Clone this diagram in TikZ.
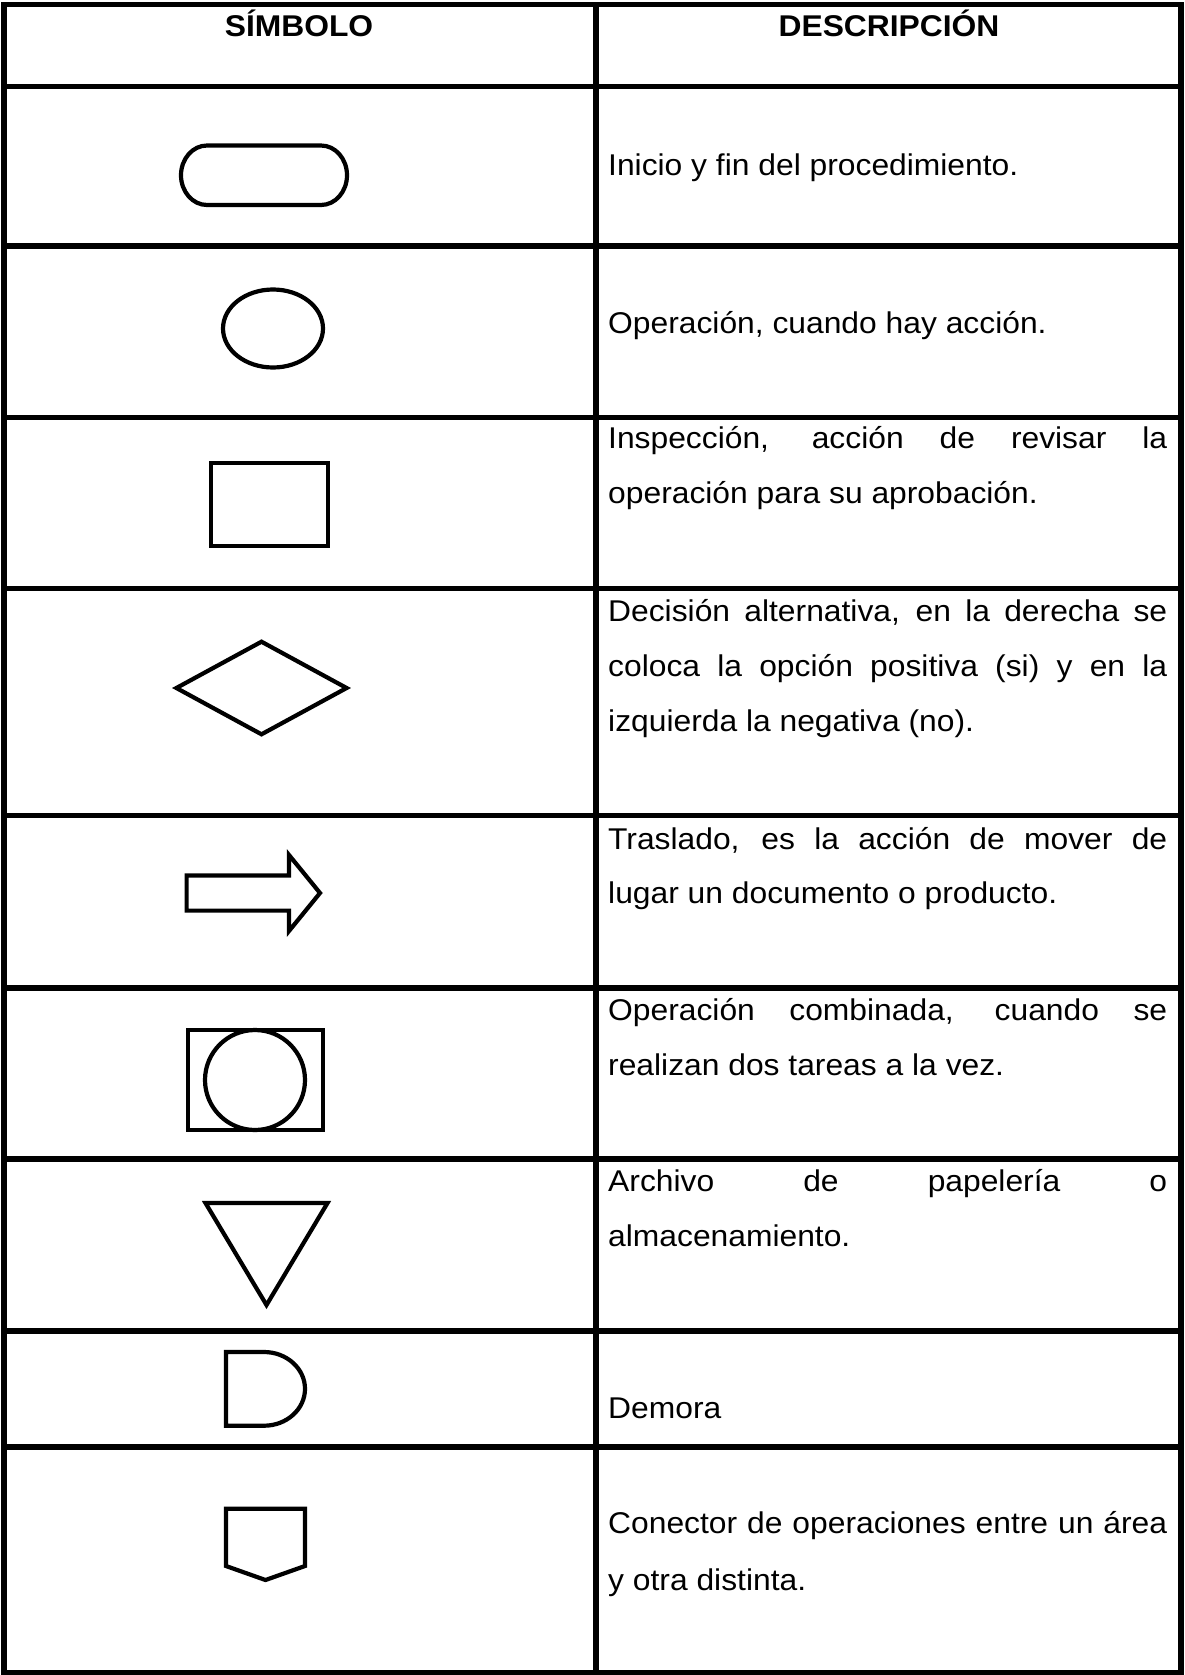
\documentclass[tikz,border=0pt]{standalone}
\usepackage{fontspec}
\setmainfont{Liberation Sans}[FakeStretch=1.06]
\newcommand\jline[1]{\makebox[559pt][s]{#1}}
\begin{document}
\begin{tikzpicture}[x=1pt,y=-1pt,
  tbl/.style={line width=5.5pt},
  sym/.style={line width=4.2pt, line join=miter},
  desc/.style={anchor=base west, inner sep=0pt, font=\fontsize{30}{36}\selectfont},
  head/.style={anchor=base, inner sep=0pt, font=\fontsize{30}{36}\selectfont\bfseries}]
\useasboundingbox (0,0) rectangle (1184,1675);
\fill[white] (0,0) rectangle (1184,1675);

% table grid
\draw[tbl] (4.2,4.5) rectangle (1181,1672.5);
\draw[tbl] (596,4.5) -- (596,1672.5);
\foreach \y in {86.7,246,417.7,588.7,815.7,988,1159,1331,1447}
  \draw[tbl] (4.2,\y) -- (1181,\y);

% header
\node[head] (h1) at (299,36.7) {SÍMBOLO};
\node[head] (h2) at (889,36.7) {DESCRIPCIÓN};

% descriptions
\node[desc] (t1) at (608,175) {Inicio y fin del procedimiento.};
\node[desc] (t2) at (608,333) {Operación, cuando hay acción.};
\node[desc] (t3a) at (608,448.3) {\jline{Inspección, acción de revisar la}};
\node[desc] (t3b) at (608,503.3) {operación para su aprobación.};
\node[desc] (t4a) at (608,621.7) {\jline{Decisión alternativa, en la derecha se}};
\node[desc] (t4b) at (608,676.7) {\jline{coloca la opción positiva (si) y en la}};
\node[desc] (t4c) at (608,731.7) {izquierda la negativa (no).};
\node[desc] (t5a) at (608,849.3) {\jline{Traslado, es la acción de mover de}};
\node[desc] (t5b) at (608,903.3) {lugar un documento o producto.};
\node[desc] (t6a) at (608,1020) {\jline{Operación combinada, cuando se}};
\node[desc] (t6b) at (608,1075) {realizan dos tareas a la vez.};
\node[desc] (t7a) at (608,1191.7) {\jline{Archivo de papelería o}};
\node[desc] (t7b) at (608,1246.7) {almacenamiento.};
\node[desc] (t8) at (608,1418.3) {Demora};
\node[desc] (t9a) at (608,1533.3) {\jline{Conector de operaciones entre un área}};
\node[desc] (t9b) at (608,1590) {y otra distinta.};

% symbols
% terminator
\draw[sym] (207,145.5) -- (321,145.5)
  arc[start angle=-90,end angle=90,x radius=26,y radius=29.75]
  -- (207,205)
  arc[start angle=90,end angle=270,x radius=26,y radius=29.75] -- cycle;
% operation
\draw[sym] (273,328.5) ellipse[x radius=50,y radius=39];
% inspection
\draw[sym] (211,463) rectangle (328,546);
% decision
\draw[sym] (176.4,688) -- (261.5,641.7) -- (346.6,688) -- (261.5,734.3) -- cycle;
% transport arrow
\draw[sym] (186.6,875.4) -- (289,875.4) -- (289,855) -- (320,893)
  -- (289,931) -- (289,910.6) -- (186.6,910.6) -- cycle;
% combined operation
\draw[sym] (188,1030) rectangle (323,1130);
\draw[sym] (255,1080) circle[radius=50];
% storage
\draw[sym] (205.5,1203) -- (327.5,1203) -- (266.5,1305) -- cycle;
% delay
\draw[sym] (264,1352) -- (226,1352) -- (226,1425.7) -- (264,1425.7)
  arc[start angle=90,end angle=-90,x radius=41,y radius=36.85] -- cycle;
% off-page connector
\draw[sym] (226,1508.8) -- (305,1508.8) -- (305,1566) -- (265.5,1580)
  -- (226,1566) -- cycle;
\end{tikzpicture}
\end{document}
